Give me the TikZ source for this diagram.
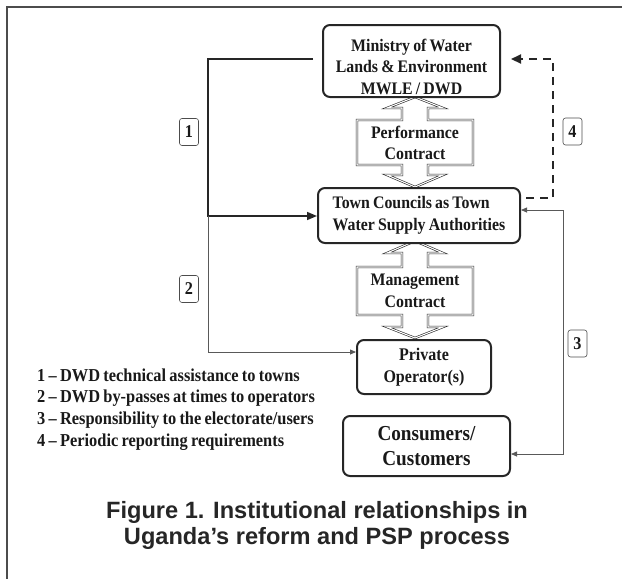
\documentclass[tikz,border=0pt]{standalone}
\usepackage{fontspec}
\setmainfont{Liberation Serif}
\newfontfamily\condserif[FakeStretch=0.9, WordSpace=0.8, Ligatures=TeX]{Liberation Serif}
\newfontfamily\capfont{Liberation Sans}
\usetikzlibrary{arrows.meta,calc}
\begin{document}
\begin{tikzpicture}[x=1pt,y=-1pt,
  box/.style={draw=black!85, line width=2pt, rounded corners=7pt, inner sep=0pt, fill=white},
  txt/.style={inner sep=0pt, font=\condserif\bfseries\fontsize{17.6}{21.5}\selectfont, align=center, text=black!90},
  tag/.style={draw=black!70, line width=0.6pt, rounded corners=2.5pt, minimum width=19pt, minimum height=27pt, inner sep=0pt, font=\condserif\bfseries\fontsize{18}{20}\selectfont, text=black!90},
  blockarrow/.style={draw=black!85, double=white, double distance=1.1pt, line width=0.6pt, line join=miter, fill=white},
  link1/.style={line width=1.6pt, draw=black!85, -{Triangle[length=10pt,width=8pt]}},
  link2/.style={line width=0.8pt, draw=black!65, -{Triangle[length=6pt,width=5pt]}},
  link3/.style={line width=0.8pt, draw=black!65, {Triangle[length=6pt,width=5pt]}-{Triangle[length=6pt,width=5pt]}},
  link4/.style={line width=2.2pt, draw=black!85, dash pattern=on 8pt off 6pt, -{Triangle[length=10pt,width=9pt]}},
  frame/.style={line width=1.3pt, draw=black!70}
]
\useasboundingbox (0,0) rectangle (622,579);
\draw[frame] (623,7) -- (7,7) -- (7,580);

% block arrows
\draw[blockarrow] (415,97) -- (443,108) -- (428,108) -- (428,120) -- (473,120) -- (473,165) -- (428,165) -- (428,175) -- (443,175) -- (415,187) -- (387,175) -- (402,175) -- (402,165) -- (357,165) -- (357,120) -- (402,120) -- (402,108) -- (387,108) -- cycle;
\draw[blockarrow] (415,241) -- (443,253) -- (428,253) -- (428,267) -- (473,267) -- (473,315) -- (428,315) -- (428,327) -- (443,327) -- (415,338) -- (387,327) -- (402,327) -- (402,315) -- (357,315) -- (357,267) -- (402,267) -- (402,253) -- (387,253) -- cycle;
\node[txt] (perf) at (415,143) {Performance\\Contract};
\node[txt] (mgmt) at (415,291) {Management\\Contract};

% boxes
\node[box, minimum width=177pt, minimum height=72pt] (min) at (411.5,61) {};
\node[txt] (mintext) at (411.5,66.5) {Ministry of Water\\Lands \& Environment\\MWLE / DWD};
\node[box, minimum width=202pt, minimum height=55pt, align=left, font=\condserif\bfseries\fontsize{17.6}{21.5}\selectfont, text=black!90] (tc) at (419,215.5) {Town Councils as Town\\Water Supply Authorities};
\node[box, minimum width=134pt, minimum height=54pt, align=center, font=\condserif\bfseries\fontsize{17.8}{22.5}\selectfont, text=black!90] (po) at (424,367) {Private\\Operator(s)};
\node[box, minimum width=167pt, minimum height=60pt, align=center, font=\condserif\bfseries\fontsize{21.3}{25}\selectfont, text=black!90] (cons) at (426.5,446) {Consumers/\\Customers};

% tags
\node[tag] (t1) at (189,132) {1};
\node[tag] (t2) at (189,289) {2};
\node[tag] (t3) at (577.5,343.5) {3};
\node[tag] (t4) at (572.5,131.5) {4};

% connectors
\coordinate (s1) at (313,59);
\coordinate (c1) at (208,59);
\coordinate (j1) at (208,216);
\coordinate (c2) at (208,352);
\draw[link1] (s1) -- (c1) -- (j1) -- (j1 -| tc.west);
\draw[link2] (j1) -- (c2) -- (c2 -| po.west);
\coordinate (c3a) at (563,210);
\coordinate (c3b) at (563,454);
\draw[link3] (c3a -| tc.east) -- (c3a) -- (c3b) -- (c3b -| cons.east);
\coordinate (s4) at (526,198);
\coordinate (c4a) at (553,198);
\coordinate (c4b) at (553,59);
\draw[link4] (s4) -- (c4a) -- (c4b) -- ($(c4b -| min.east)+(10,0)$);

% legend
\node[txt, align=left, anchor=west, font=\condserif\bfseries\fontsize{18.2}{21.7}\selectfont] (legend) at (37,409.5) {1 – DWD technical assistance to towns\\2 – DWD by-passes at times to operators\\3 – Responsibility to the electorate/users\\4 – Periodic reporting requirements};

% caption
\node[inner sep=0pt, align=center, text=black!85, font=\capfont\bfseries\fontsize{23.6}{26}\selectfont] (cap) at (317,525) {Figure 1. Institutional relationships in\\Uganda’s reform and PSP process};
\end{tikzpicture}
\end{document}
